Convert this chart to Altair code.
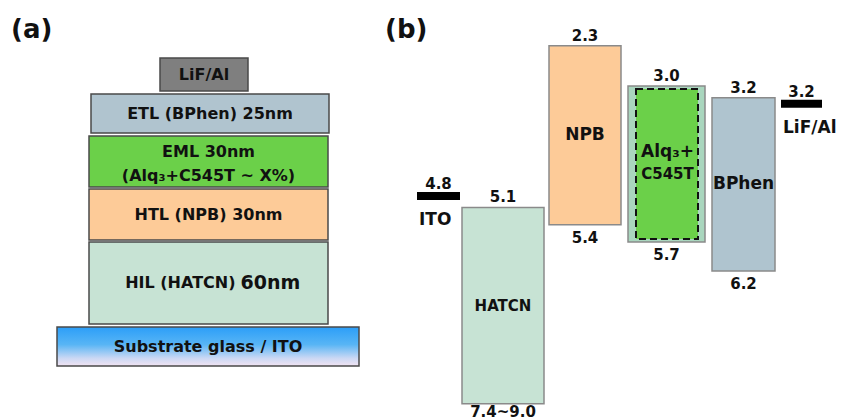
import altair as alt
import pandas as pd

FONT = "DejaVu Sans"
INK = "#111111"

# ---------------- (a) device stack ----------------
stack_layers = ["LiF/Al", "ETL", "EML", "HTL", "HIL"]
stack_labels = [
    "LiF/Al",
    "ETL (BPhen) 25nm",
    ["EML 30nm", "(Alq\u2083+C545T ~ X%)"],
    "HTL (NPB) 30nm",
    "HIL (HATCN)",
]
hil_thickness = "60nm"
substrate_label = "Substrate glass / ITO"

# ---------------- (b) energy levels (eV) ----------------
organics = ["HATCN", "NPB", "Alq3", "BPhen"]
lumo_ev = [5.1, 2.3, 3.0, 3.2]
homo_ev = [8.5, 5.4, 5.7, 6.2]          # drawn depth of each band
lumo_text = ["5.1", "2.3", "3.0", "3.2"]
homo_text = ["7.4~9.0", "5.4", "5.7", "6.2"]
electrodes = ["ITO", "LiF/Al"]
work_fn_ev = [4.8, 3.2]
work_fn_text = ["4.8", "3.2"]
dopant_lines = ["Alq\u2083+", "C545T"]

# ---------------- layout (diagram units) ----------------
stack_x0 = [160, 91, 89, 89, 89]
stack_x1 = [248, 329, 328, 328, 328]
stack_y0 = [58, 94, 136, 189, 242]
stack_y1 = [91, 133, 187, 240, 324]
stack_fill = ["#7f7f7f", "#b0c4cf", "#6bd049", "#fdcb98", "#c7e3d4"]
sub_box = dict(x0=57, x1=359, y0=327, y1=366)

organic_x0 = [462, 549, 628, 712]
organic_x1 = [544, 621, 705, 775]
organic_fill = ["#c7e3d4", "#fdcb98", "#a9d6be", "#afc4cf"]
organic_name_size = [15, 17, 17, 17]
electrode_x0 = [417, 781]
electrode_x1 = [460, 822]

# ================= panel (a) =================
xa = alt.Scale(domain=[0, 380], nice=False, zero=False)
ya = alt.Scale(domain=[0, 420], nice=False, zero=False, reverse=True)

stack_df = pd.DataFrame({
    "layer": stack_layers,
    "label": stack_labels,
    "x0": stack_x0, "x1": stack_x1, "y0": stack_y0, "y1": stack_y1,
})
stack_df["xm"] = (stack_df.x0 + stack_df.x1) / 2
stack_df["ym"] = (stack_df.y0 + stack_df.y1) / 2

boxes = alt.Chart(stack_df).mark_rect(stroke="#4a4a4a", strokeWidth=1.5).encode(
    x=alt.X("x0:Q", scale=xa, axis=None),
    x2="x1:Q",
    y=alt.Y("y0:Q", scale=ya, axis=None),
    y2="y1:Q",
    color=alt.Color("layer:N", scale=alt.Scale(domain=stack_layers, range=stack_fill), legend=None),
)

single = stack_df[~stack_df.layer.isin(["HIL", "EML"])]
main_labels = alt.Chart(single).mark_text(
    font=FONT, fontWeight="bold", fontSize=16, color=INK, baseline="middle"
).encode(
    x=alt.X("xm:Q", scale=xa, axis=None),
    y=alt.Y("ym:Q", scale=ya, axis=None),
    text="label",
)
eml_label = alt.Chart(stack_df[stack_df.layer == "EML"]).mark_text(
    font=FONT, fontWeight="bold", fontSize=16, color=INK, lineHeight=24,
    baseline="middle", dy=-10,
).encode(
    x=alt.X("xm:Q", scale=xa, axis=None),
    y=alt.Y("ym:Q", scale=ya, axis=None),
    text="label",
)

hil_row = stack_df[stack_df.layer == "HIL"]
hil_name = alt.Chart(hil_row).mark_text(
    font=FONT, fontWeight="bold", fontSize=16, color=INK, align="right", dx=27, baseline="middle"
).encode(
    x=alt.X("xm:Q", scale=xa, axis=None),
    y=alt.Y("ym:Q", scale=ya, axis=None),
    text="label",
)
hil_nm = alt.Chart(hil_row.assign(nm=hil_thickness)).mark_text(
    font=FONT, fontWeight="bold", fontSize=19, color=INK, align="left", dx=32, baseline="middle"
).encode(
    x=alt.X("xm:Q", scale=xa, axis=None),
    y=alt.Y("ym:Q", scale=ya, axis=None),
    text="nm",
)

sub_df = pd.DataFrame([{**sub_box, "label": substrate_label}])
sub_df["xm"] = (sub_df.x0 + sub_df.x1) / 2
sub_df["ym"] = (sub_df.y0 + sub_df.y1) / 2
glass = alt.Chart(sub_df).mark_rect(
    stroke="#4a4a4a", strokeWidth=1.5,
    fill=alt.Gradient(
        gradient="linear", x1=0, x2=0, y1=0, y2=1,
        stops=[
            alt.GradientStop(color="#2c9ef8", offset=0),
            alt.GradientStop(color="#58b5f5", offset=0.45),
            alt.GradientStop(color="#cbd8f4", offset=0.8),
            alt.GradientStop(color="#f2e4f2", offset=1),
        ],
    ),
).encode(
    x=alt.X("x0:Q", scale=xa, axis=None), x2="x1:Q",
    y=alt.Y("y0:Q", scale=ya, axis=None), y2="y1:Q",
)
glass_text = alt.Chart(sub_df).mark_text(
    font=FONT, fontWeight="bold", fontSize=16, color=INK, baseline="middle"
).encode(
    x=alt.X("xm:Q", scale=xa, axis=None),
    y=alt.Y("ym:Q", scale=ya, axis=None),
    text="label",
)

tag_a = alt.Chart(pd.DataFrame({"t": ["(a)"], "x": [11], "y": [30]})).mark_text(
    font=FONT, fontWeight="bold", fontSize=26, color=INK, align="left", baseline="middle"
).encode(
    x=alt.X("x:Q", scale=xa, axis=None),
    y=alt.Y("y:Q", scale=ya, axis=None),
    text="t",
)

panel_a = alt.layer(
    boxes, glass, main_labels, eml_label, hil_name, hil_nm, glass_text, tag_a
).properties(width=380, height=420)

# ================= panel (b) =================
xb = alt.Scale(domain=[380, 846], nice=False, zero=False)
yb = alt.Scale(domain=[1.51, 8.78], nice=False, zero=False, reverse=True)

band_df = pd.DataFrame({
    "material": organics,
    "lumo": lumo_ev, "homo": homo_ev,
    "lumo_t": lumo_text, "homo_t": homo_text,
    "x0": organic_x0, "x1": organic_x1,
    "fs": organic_name_size,
})
band_df["xm"] = (band_df.x0 + band_df.x1) / 2
band_df["mid"] = (band_df.lumo + band_df.homo) / 2

bands = alt.Chart(band_df).mark_rect(stroke="#8a8a8a", strokeWidth=1.5).encode(
    x=alt.X("x0:Q", scale=xb, axis=None), x2="x1:Q",
    y=alt.Y("lumo:Q", scale=yb, axis=None), y2="homo:Q",
    color=alt.Color("material:N", scale=alt.Scale(domain=organics, range=organic_fill), legend=None),
)

# dashed dopant region inside the Alq3 host band
dop = band_df[band_df.material == "Alq3"]
dopant = alt.Chart(dop).mark_rect(
    fill="#6bd049", stroke="#111111", strokeWidth=2, strokeDash=[7, 4],
    xOffset=8, x2Offset=-7, yOffset=3, y2Offset=-3,
).encode(
    x=alt.X("x0:Q", scale=xb, axis=None), x2="x1:Q",
    y=alt.Y("lumo:Q", scale=yb, axis=None), y2="homo:Q",
)

lumo_labels = alt.Chart(band_df).mark_text(
    font=FONT, fontWeight="bold", fontSize=15, color=INK, baseline="alphabetic", dy=-5
).encode(
    x=alt.X("xm:Q", scale=xb, axis=None),
    y=alt.Y("lumo:Q", scale=yb, axis=None),
    text="lumo_t",
)
homo_labels = alt.Chart(band_df[band_df.material != "HATCN"]).mark_text(
    font=FONT, fontWeight="bold", fontSize=15, color=INK, baseline="alphabetic", dy=18
).encode(
    x=alt.X("xm:Q", scale=xb, axis=None),
    y=alt.Y("homo:Q", scale=yb, axis=None),
    text="homo_t",
)
# the deep HATCN band sits near the bottom edge, so its label hugs the bar
hatcn_homo = alt.Chart(band_df[band_df.material == "HATCN"]).mark_text(
    font=FONT, fontWeight="bold", fontSize=15, color=INK, baseline="alphabetic", dy=13
).encode(
    x=alt.X("xm:Q", scale=xb, axis=None),
    y=alt.Y("homo:Q", scale=yb, axis=None),
    text="homo_t",
)
names = alt.Chart(band_df[band_df.material != "Alq3"]).mark_text(
    font=FONT, fontWeight="bold", color=INK, baseline="middle"
).encode(
    x=alt.X("xm:Q", scale=xb, axis=None),
    y=alt.Y("mid:Q", scale=yb, axis=None),
    text="material",
    size=alt.Size("fs:Q", scale=None, legend=None),
)
dop_top = alt.Chart(dop.assign(t=dopant_lines[0])).mark_text(
    font=FONT, fontWeight="bold", fontSize=17, color=INK, baseline="middle", dy=-12, dx=1
).encode(
    x=alt.X("xm:Q", scale=xb, axis=None),
    y=alt.Y("mid:Q", scale=yb, axis=None),
    text="t",
)
dop_bot = alt.Chart(dop.assign(t=dopant_lines[1])).mark_text(
    font=FONT, fontWeight="bold", fontSize=15, color=INK, baseline="middle", dy=10, dx=1
).encode(
    x=alt.X("xm:Q", scale=xb, axis=None),
    y=alt.Y("mid:Q", scale=yb, axis=None),
    text="t",
)

elec_df = pd.DataFrame({
    "name": electrodes, "wf": work_fn_ev, "wf_t": work_fn_text,
    "x0": electrode_x0, "x1": electrode_x1,
})
elec_df["xm"] = (elec_df.x0 + elec_df.x1) / 2

elec_bars = alt.Chart(elec_df).mark_rule(color="#000000", strokeWidth=8, yOffset=6).encode(
    x=alt.X("x0:Q", scale=xb, axis=None), x2="x1:Q",
    y=alt.Y("wf:Q", scale=yb, axis=None),
)
elec_values = alt.Chart(elec_df).mark_text(
    font=FONT, fontWeight="bold", fontSize=15, color=INK, baseline="alphabetic", dy=-1
).encode(
    x=alt.X("xm:Q", scale=xb, axis=None),
    y=alt.Y("wf:Q", scale=yb, axis=None),
    text="wf_t",
)
elec_names = alt.Chart(elec_df).mark_text(
    font=FONT, fontWeight="bold", fontSize=17, color=INK, align="left", baseline="middle", dx=2, dy=30
).encode(
    x=alt.X("x0:Q", scale=xb, axis=None),
    y=alt.Y("wf:Q", scale=yb, axis=None),
    text="name",
)

tag_b = alt.Chart(pd.DataFrame({"t": ["(b)"], "x": [385], "y": [2.03]})).mark_text(
    font=FONT, fontWeight="bold", fontSize=26, color=INK, align="left", baseline="middle"
).encode(
    x=alt.X("x:Q", scale=xb, axis=None),
    y=alt.Y("y:Q", scale=yb, axis=None),
    text="t",
)

panel_b = alt.layer(
    bands, dopant, lumo_labels, homo_labels, hatcn_homo, names, dop_top, dop_bot,
    elec_bars, elec_values, elec_names, tag_b,
).properties(width=466, height=420)

chart = (
    alt.hconcat(panel_a, panel_b, spacing=0)
    .resolve_scale(color="independent")
    .properties(padding=0, background="#ffffff")
    .configure_view(stroke=None)
)

chart.save("out.html", embed_options={"renderer": "svg", "actions": False})
